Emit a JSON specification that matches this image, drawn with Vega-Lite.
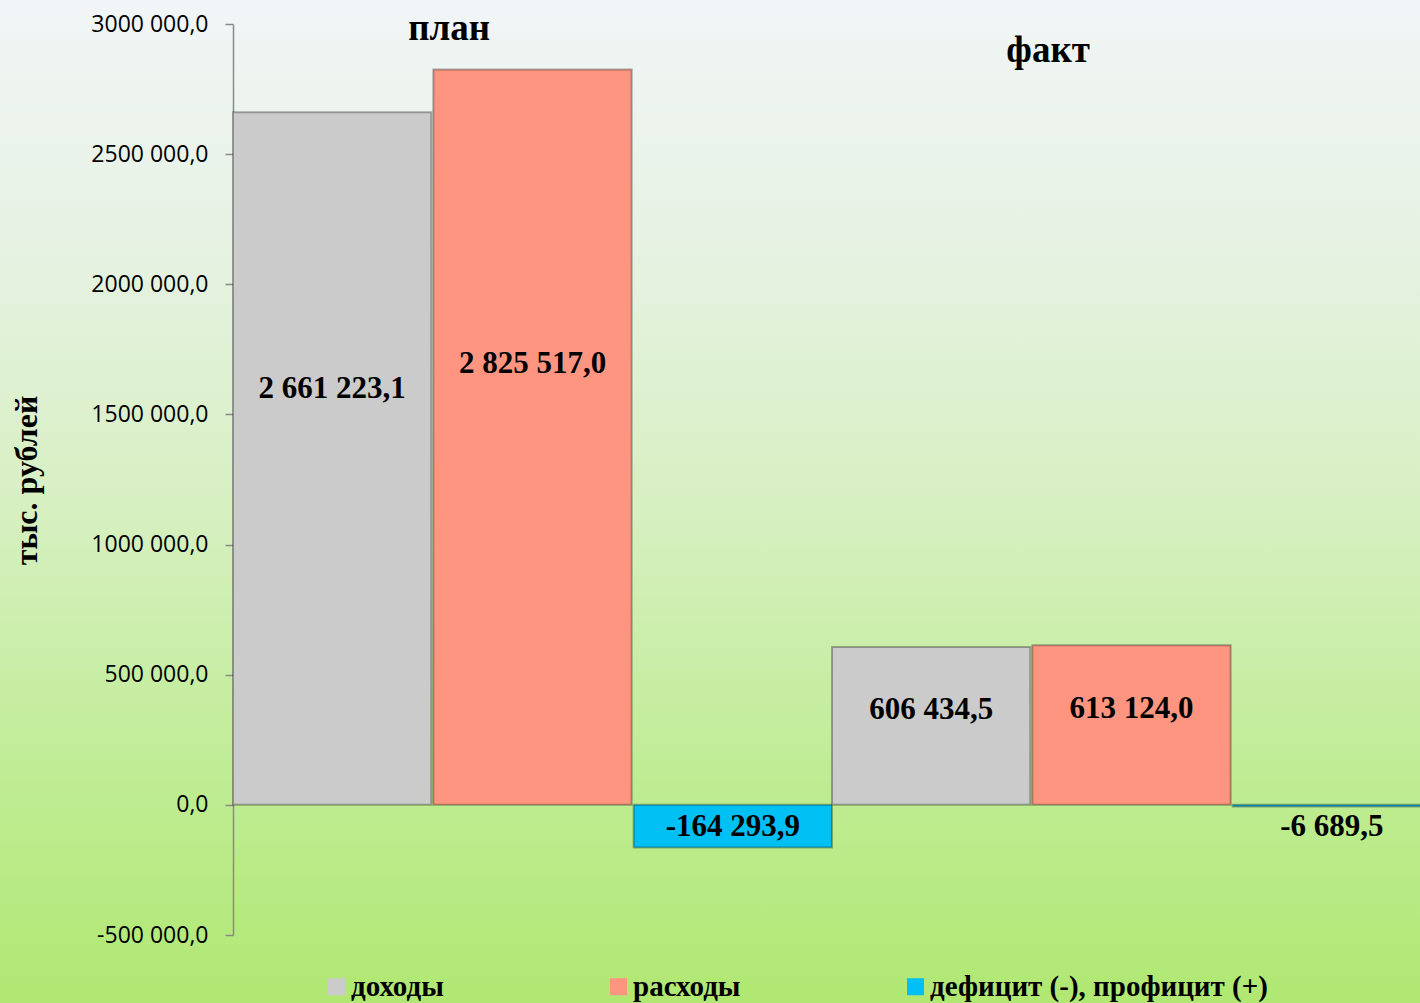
{
  "$schema": "https://vega.github.io/schema/vega-lite/v6.json",
  "width": 1420,
  "height": 1003,
  "padding": 0,
  "autosize": {"type": "none"},
  "background": "#b2e876",
  "view": {
    "stroke": null,
    "fill": {
      "gradient": "linear", "x1": 0, "y1": 0, "x2": 0, "y2": 1,
      "stops": [
        {"offset": 0, "color": "#f1f5f7"},
        {"offset": 0.25, "color": "#e6f2e2"},
        {"offset": 0.5, "color": "#d7f0c2"},
        {"offset": 0.78, "color": "#bfec93"},
        {"offset": 1, "color": "#b0e872"}
      ]
    }
  },
  "datasets": {
    "budget": [
      {"group": "план", "series": "доходы", "value": 2661223.1},
      {"group": "план", "series": "расходы", "value": 2825517.0},
      {"group": "план", "series": "дефицит (-), профицит (+)", "value": -164293.9},
      {"group": "факт", "series": "доходы", "value": 606434.5},
      {"group": "факт", "series": "расходы", "value": 613124.0},
      {"group": "факт", "series": "дефицит (-), профицит (+)", "value": -6689.5}
    ]
  },
  "data": {"name": "budget"},
  "layer": [
    {
      "mark": {"type": "bar", "stroke": "#000000", "strokeOpacity": 0.3, "strokeWidth": 2},
      "encoding": {
        "x": {
          "field": "group", "type": "nominal", "sort": ["план", "факт"],
          "scale": {"domain": ["план", "факт"], "range": [233, 1431], "paddingInner": 0, "paddingOuter": 0},
          "axis": null
        },
        "xOffset": {
          "field": "series", "type": "nominal",
          "sort": ["доходы", "расходы", "дефицит (-), профицит (+)"],
          "scale": {"domain": ["доходы", "расходы", "дефицит (-), профицит (+)"], "paddingInner": 0.01, "paddingOuter": 0}
        },
        "y": {
          "field": "value", "type": "quantitative",
          "scale": {"domain": [-500000, 3000000], "range": [935, 24], "nice": false},
          "axis": {
            "orient": "left", "offset": -233, "grid": false,
            "domain": true, "domainColor": "#8a8a8a", "domainWidth": 1.5,
            "ticks": true, "tickColor": "#8a8a8a", "tickSize": 8, "tickWidth": 1.5,
            "values": [-500000, 0, 500000, 1000000, 1500000, 2000000, 2500000, 3000000],
            "labelExpr": "datum.value >= 1000000 ? format(datum.value / 1000, 'd') + ' 000,0' : replace(replace(replace(format(datum.value, ',.1f'), regexp(',', 'g'), ' '), '.', ','), '\u2212', '-')",
            "labelFont": "Open Sans", "labelFontSize": 23, "labelColor": "#000000",
            "labelPadding": 17, "labelOverlap": false, "labelFlush": false,
            "title": "тыс. рублей", "titleFont": "Liberation Serif", "titleFontSize": 32,
            "titleFontWeight": "bold", "titleColor": "#000000",
            "titleX": -197, "titleY": 480, "titleBaseline": "alphabetic", "titleAngle": 270
          }
        },
        "color": {
          "field": "series", "type": "nominal",
          "scale": {"domain": ["доходы", "расходы", "дефицит (-), профицит (+)"], "range": ["#cbcbcb", "#fe9580", "#00bff2"]},
          "legend": {
            "orient": "none", "legendX": 322, "legendY": 972, "direction": "horizontal", "padding": 0,
            "title": null, "symbolType": "square", "symbolSize": 289, "symbolStrokeWidth": 0,
            "labelFont": "Liberation Serif", "labelFontWeight": "bold", "labelFontSize": 29,
            "labelColor": "#000000", "columnPadding": 160, "labelOffset": 0, "labelLimit": 600
          }
        }
      }
    },
    {
      "transform": [{"filter": "datum.value > 0"}],
      "mark": {
        "type": "text", "font": "Liberation Serif", "fontWeight": "bold", "fontSize": 31, "color": "#000000", "baseline": "middle",
        "text": {"expr": "replace(replace(replace(format(datum.value, ',.1f'), regexp(',', 'g'), ' '), '.', ','), '\u2212', '-')"}
      },
      "encoding": {
        "x": {"field": "group", "type": "nominal"},
        "xOffset": {"field": "series", "type": "nominal"},
        "y": {"field": "value", "type": "quantitative", "stack": "zero", "bandPosition": 0.6}
      }
    },
    {
      "transform": [{"filter": "datum.value < 0"}],
      "mark": {
        "type": "text", "font": "Liberation Serif", "fontWeight": "bold", "fontSize": 31, "color": "#000000", "baseline": "middle", "dy": 22,
        "text": {"expr": "replace(replace(replace(format(datum.value, ',.1f'), regexp(',', 'g'), ' '), '.', ','), '\u2212', '-')"}
      },
      "encoding": {
        "x": {"field": "group", "type": "nominal"},
        "xOffset": {"field": "series", "type": "nominal"},
        "y": {"datum": 0, "type": "quantitative"}
      }
    },
    {
      "transform": [{"filter": "datum.group == 'план' && datum.series == 'доходы'"}],
      "mark": {"type": "text", "font": "Liberation Serif", "fontWeight": "bold", "fontSize": 37, "color": "#000000", "baseline": "middle", "dx": 117},
      "encoding": {
        "x": {"field": "group", "type": "nominal"},
        "xOffset": {"field": "series", "type": "nominal"},
        "y": {"datum": 2980000, "type": "quantitative"},
        "text": {"field": "group", "type": "nominal"}
      }
    },
    {
      "transform": [{"filter": "datum.group == 'факт' && datum.series == 'доходы'"}],
      "mark": {"type": "text", "font": "Liberation Serif", "fontWeight": "bold", "fontSize": 37, "color": "#000000", "baseline": "middle", "dx": 117},
      "encoding": {
        "x": {"field": "group", "type": "nominal"},
        "xOffset": {"field": "series", "type": "nominal"},
        "y": {"datum": 2896000, "type": "quantitative"},
        "text": {"field": "group", "type": "nominal"}
      }
    }
  ]
}
